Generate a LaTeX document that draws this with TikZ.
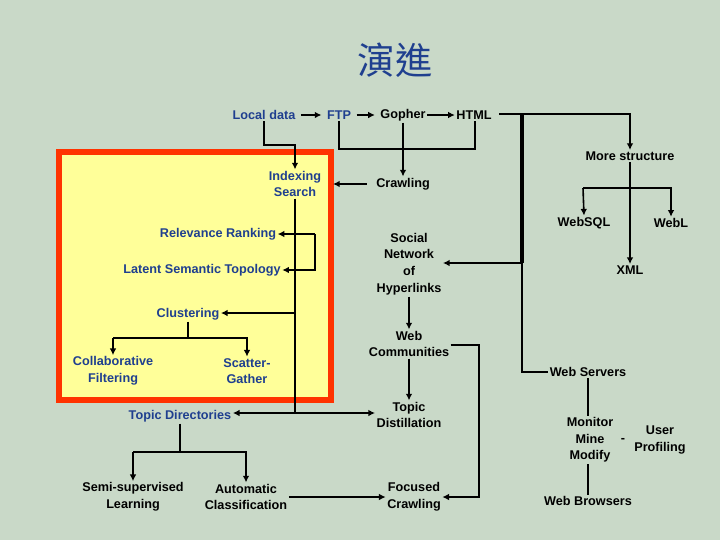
\documentclass[tikz,border=0pt]{standalone}
\usepackage{fontspec}
\setmainfont{Liberation Sans}
\newfontfamily\cjk{Noto Sans CJK TC}
\usetikzlibrary{arrows.meta}
\definecolor{bg}{HTML}{C9D9C8}
\definecolor{tb}{HTML}{1F3F8F}
\definecolor{bx}{HTML}{FFFF99}
\definecolor{rb}{HTML}{FF3300}
\begin{document}
\begin{tikzpicture}[x=0.75pt,y=-0.75pt,
  lbl/.style={font=\bfseries\fontsize{9.5}{12.5}\selectfont, align=center, inner sep=1pt},
  bl/.style={lbl, text=tb},
  ln/.style={line width=1.2pt},
  ar/.style={line width=1.2pt, -{Latex[length=5pt,width=5pt]}}]
\fill[bg] (0,0) rectangle (720,540);
\useasboundingbox (0,0) rectangle (720,540);
\draw[rb, line width=4pt, fill=bx] (59,152) rectangle (331,400);
\node[text=tb, font=\cjk\fontsize{28}{30}\selectfont] (title) at (395,60) {演進};
\node[bl] (local) at (264,115) {Local data};
\node[bl] (ftp) at (339,115) {FTP};
\node[lbl] (gopher) at (403,115) {Gopher};
\node[lbl] (html) at (474,115) {HTML};
\node[bl] (index) at (295,184) {Indexing\\Search};
\node[lbl] (crawl) at (403,184) {Crawling};
\node[bl] (rel) at (218,234) {Relevance Ranking};
\node[bl] (lst) at (202,270) {Latent Semantic Topology};
\node[bl] (clus) at (188,314) {Clustering};
\node[lbl] (collab) at (113,371) {\color{tb}Collaborative\\\color{tb}Filtering};
\node[lbl] (scat) at (247,371) {\color{tb}Scatter-\\\color{tb}Gather};
\node[bl] (topdir) at (180,416) {Topic Directories};
\node[lbl] (semi) at (133,497) {Semi-supervised\\Learning};
\node[lbl] (auto) at (246,497) {Automatic\\Classification};
\node[lbl] (social) at (409,264) {Social\\Network\\of\\Hyperlinks};
\node[lbl] (webc) at (409,344) {Web\\Communities};
\node[lbl] (topdist) at (409,415) {Topic\\Distillation};
\node[lbl] (focus) at (414,497) {Focused\\Crawling};
\node[lbl] (more) at (630,156) {More structure};
\node[lbl] (websql) at (584,223) {WebSQL};
\node[lbl] (webl) at (671,223) {WebL};
\node[lbl] (xml) at (630,270) {XML};
\node[lbl] (webs) at (588,372) {Web Servers};
\node[lbl] (mmm) at (590,440) {Monitor\\Mine\\Modify};
\node[lbl] (dash) at (623,440) {-};
\node[lbl] (user) at (660,440) {User\\Profiling};
\node[lbl] (webb) at (588,501) {Web Browsers};
% top chain
\draw[ar] ([xshift=3pt]local.east) -- ([xshift=-3pt]ftp.west);
\draw[ar] ([xshift=3pt]ftp.east) -- ([xshift=-3pt]gopher.west);
\draw[ar] (gopher.east) -- (html.west);
\draw[ar] (local.south) |- (295,145) -- (index.north);
\draw[ln] (ftp.south) |- (475,149) -- (html.south -| 475,0);
\draw[ar] (gopher.south) -- (crawl.north);
\draw[ar] (crawl.west) ++(-8,0) -- (333,184);
% left spine
\coordinate (sp) at (295,413);
\draw[ln] (index.south) -- (sp);
\draw[ar] (315,234) -- (rel.east |- 0,234);
\draw[ar] (315,234) -- (315,270) -- (lst.east |- 0,270);
\draw[ar] (295,313) -- (clus.east |- 0,313);
\draw[ar] (sp) -- (topdir.east |- sp);
\draw[ar] (sp) -- (topdist.west |- sp);
\draw[ln] (clus.south) -- (188,338);
\draw[ar] (113,338) -- (collab.north);
\draw[ar] (113,338) -- (247,338) -- (scat.north);
\draw[ln] (topdir.south) -- (180,452);
\draw[ar] (133,452) -- (semi.north);
\draw[ar] (133,452) -- (246,452) -- (auto.north);
\draw[ar] (auto.east |- 0,497) -- (focus.west |- 0,497);
% middle
\draw[ar] (social.south) -- (webc.north);
\draw[ar] (webc.south) -- (topdist.north);
\draw[ar] (webc.east |- 0,345) -| (479,497) -- (focus.east |- 0,497);
% right
\draw[line width=2.5pt] (522,114) -- (522,263);
\draw[ln] (522,263) |- (webs.west);
\draw[ar] (522,263) -- (social.east |- 0,263);
\draw[ar] (html.east |- 0,114) ++(6,0) -| (more.north);
\draw[ar] (more.south) -- (xml.north);
\draw[ar] (583,188) -- (websql.north);
\draw[ar] (583,188) -- (671,188) -- (webl.north);
\draw[ln] (webs.south) -- (webs.south |- mmm.north);
\draw[ln] (webb.north) -- (webb.north |- mmm.south);
\end{tikzpicture}
\end{document}
